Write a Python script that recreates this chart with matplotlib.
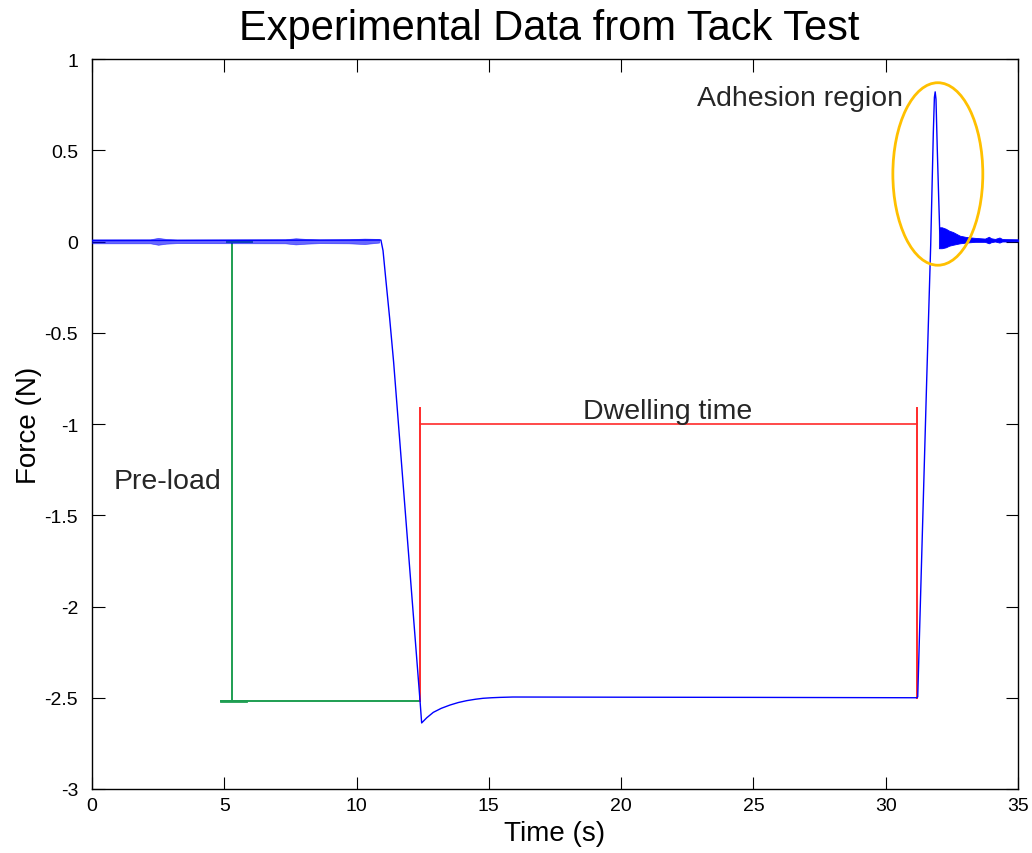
import matplotlib
matplotlib.use("Agg")
import matplotlib.pyplot as plt
from matplotlib.patches import Ellipse

plt.rcParams["font.family"] = ["Liberation Sans", "DejaVu Sans"]
plt.rcParams["axes.unicode_minus"] = False

# Force trace: key points of the measured signal (time in s, force in N)
trace_t = [0.00, 10.92, 11.00, 11.10, 11.25, 11.40, 12.40, 12.46, 12.65, 12.90,
           13.20, 13.53, 13.85, 14.16, 14.50, 14.78, 15.10, 15.42, 15.91, 20.00,
           25.00, 31.18, 31.21, 31.55, 31.70, 31.80, 31.84, 31.87, 31.90, 31.95,
           32.00, 32.04, 32.10, 32.40, 33.00, 34.00, 35.00]
trace_f = [0.005, 0.008, -0.050, -0.200, -0.420, -0.660, -2.520, -2.638, -2.610, -2.580,
           -2.558, -2.540, -2.526, -2.516, -2.508, -2.503, -2.500, -2.498, -2.496, -2.497,
           -2.498, -2.500, -2.495, -0.754, -0.020, 0.600, 0.790, 0.820, 0.780, 0.500,
           0.250, 0.060, 0.020, 0.015, 0.010, 0.006, 0.005]

# Baseline wobble before loading (upper / lower envelope)
base_t = [0.00, 2.20, 2.50, 2.80, 3.20, 7.30, 7.70, 8.10, 8.60, 9.70, 10.30, 10.85]
base_hi = [0.012, 0.012, 0.020, 0.014, 0.011, 0.012, 0.018, 0.014, 0.011, 0.012, 0.016, 0.014]
base_lo = [-0.010, -0.010, -0.018, -0.012, -0.009, -0.010, -0.016, -0.012, -0.009, -0.010, -0.014, -0.006]

# Ringing after detachment (upper / lower envelope)
ring_t = [32.01, 32.12, 32.27, 32.40, 32.54, 32.80, 33.03, 33.37, 33.75, 33.90,
          33.98, 34.13, 34.30, 34.40, 34.50, 35.00]
ring_hi = [0.078, 0.078, 0.070, 0.059, 0.052, 0.032, 0.025, 0.020, 0.016, 0.026,
           0.018, 0.014, 0.022, 0.014, 0.013, 0.012]
ring_lo = [-0.037, -0.037, -0.032, -0.023, -0.018, -0.010, -0.006, -0.002, -0.002, -0.010,
           -0.004, 0.000, -0.006, 0.000, 0.000, 0.001]

# Annotation geometry (data units)
preload_x = 5.31
preload_top = 0.0
preload_level = -2.52
dwell_start = 12.40
dwell_end = 31.18
dwell_level = -1.0
dwell_cap_top = -0.91
dwell_end_level = -2.50

x_ticks = [0, 5, 10, 15, 20, 25, 30, 35]
y_ticks = [-3, -2.5, -2, -1.5, -1, -0.5, 0, 0.5, 1]
y_tick_labels = ["-3", "-2.5", "-2", "-1.5", "-1", "-0.5", "0", "0.5", "1"]

fig = plt.figure(figsize=(10.32, 8.54), dpi=100)
ax = fig.add_axes([92 / 1032, 64 / 854, 926 / 1032, 730 / 854])

blue = (0, 0, 1)
green = "#1e9e52"
red = "#ff2a2a"
gold = "#ffc000"

ax.plot(trace_t, trace_f, color=blue, lw=1.0, zorder=3)
ax.fill_between(base_t, base_lo, base_hi, color=blue, lw=0.5, alpha=0.6, zorder=3)
ax.fill_between(ring_t, ring_lo, ring_hi, color=blue, lw=0.6, zorder=3)

# Pre-load bracket
ax.plot([preload_x, preload_x], [preload_level, preload_top], color=green, lw=1.4, zorder=2)
ax.plot([5.10, 6.05], [preload_top, preload_top], color=green, lw=1.4, zorder=2)
ax.plot([4.88, dwell_start], [preload_level, preload_level], color=green, lw=1.4, zorder=2)
ax.plot([4.88, 5.82], [preload_level, preload_level], color=green, lw=2.0, zorder=2)

# Dwelling-time bracket
ax.plot([dwell_start, dwell_end], [dwell_level, dwell_level], color=red, lw=1.2, zorder=2)
ax.plot([dwell_start, dwell_start], [preload_level, dwell_cap_top], color=red, lw=1.4, zorder=2)
ax.plot([dwell_end, dwell_end], [dwell_end_level, dwell_cap_top], color=red, lw=1.4, zorder=2)

# Adhesion region marker
ax.add_patch(Ellipse((31.97, 0.37), 3.4, 1.0, fill=False, edgecolor=gold, lw=2.0, zorder=4))

txt_kw = dict(fontsize=20.5, color="#262626", va="baseline", ha="left")
ax.text(22.88, 0.748, "Adhesion region", **txt_kw)
ax.text(18.56, -0.967, "Dwelling time", **txt_kw)
ax.text(0.83, -1.35, "Pre-load", **txt_kw)

ax.set_xlim(0, 35)
ax.set_ylim(-3, 1)
ax.set_xticks(x_ticks)
ax.set_xticklabels([str(v) for v in x_ticks])
ax.set_yticks(y_ticks)
ax.set_yticklabels(y_tick_labels)
ax.tick_params(direction="in", length=9, width=0.8, top=True, right=True,
               labelsize=14)
ax.tick_params(axis="x", pad=6)
ax.tick_params(axis="y", pad=10)
for s in ax.spines.values():
    s.set_linewidth(1.0)

ax.set_xlabel("Time (s)", fontsize=20, labelpad=4)
ax.set_ylabel("Force (N)", fontsize=20, labelpad=2)
fig.text(549 / 1032, 1 - 40 / 854, "Experimental Data from Tack Test",
         fontsize=30, ha="center", va="baseline")

fig.savefig("out.png", dpi=100)
